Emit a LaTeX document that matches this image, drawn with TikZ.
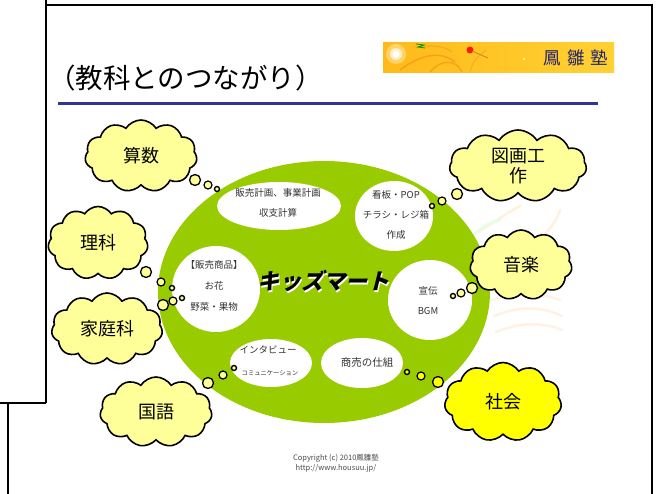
\documentclass[tikz,border=0pt]{standalone}
\usepackage{fontspec}
\usetikzlibrary{shapes.symbols,shapes.geometric}
\newfontfamily\jp{Noto Sans CJK JP}
\definecolor{cloudy}{HTML}{FFFF99}
\definecolor{social}{HTML}{FFFF00}
\definecolor{leaf}{HTML}{99CC00}
\definecolor{navy}{HTML}{333399}
\definecolor{inkgray}{HTML}{333333}
\tikzset{
  frameline/.style={line width=2pt, black},
  thought/.style={cloud, cloud puffs=11, cloud puff arc=115, cloud ignores aspect,
    draw=black, line width=1.6pt, fill=cloudy, inner sep=0pt,
    font=\jp\fontsize{18}{20}\selectfont, align=center},
  bubble/.style={ellipse, fill=white, inner sep=0pt},
  btext/.style={font=\jp\fontsize{9.5}{20}\selectfont, text=inkgray, align=center, inner sep=0pt},
  puffbig/.style={circle, draw=black, line width=1.3pt, fill=cloudy, minimum size=11pt, inner sep=0pt},
  puffmid/.style={circle, draw=black, line width=1.2pt, fill=cloudy, minimum size=8pt, inner sep=0pt},
  puffdot/.style={circle, draw=black, line width=1.4pt, fill=cloudy, minimum size=5pt, inner sep=0pt},
  faint/.style={line width=2.5pt, line cap=round},
}
% text with a white drop shadow, set as one box
\newcommand{\shadowed}[1]{\makebox[0pt][l]{\hspace{2pt}\raisebox{-2pt}{\color{white}#1}}#1}
\begin{document}
\begin{tikzpicture}[x=1pt,y=-1pt]
\useasboundingbox (0,0) rectangle (658,494);
\fill[white] (0,0) rectangle (658,494);

% slide frames
\draw[frameline] (46,0) -- (46,403);
\draw[frameline] (46,5) -- (652,5) -- (652,494);
\draw[frameline] (0,403) -- (46,403);
\draw[frameline] (8,403) -- (8,494);

% heading
\node[anchor=west, inner sep=0pt, font=\jp\fontsize{27.5}{28}\selectfont] (title) at (48,78) {（教科とのつながり）};
\draw[navy, line width=3pt] (58,104) -- (598,104);

% banner
\shade[left color=orange!60!yellow!90, right color=orange!45!yellow!80] (383,43) rectangle (614,73);
\fill[white, opacity=0.35] (396,54) circle (10);
\fill[white, opacity=0.6] (396,54) circle (6);
\fill[white] (396,54) circle (3.5);
\draw[orange!70!brown, opacity=0.45, line width=1.5pt] (400,70) .. controls (420,55) and (440,50) .. (455,62);
\draw[orange!70!brown, opacity=0.45, line width=1.5pt] (430,72) .. controls (440,60) and (455,58) .. (462,72);
\draw[orange!70!brown, opacity=0.4, line width=1pt] (415,48) .. controls (430,44) and (445,46) .. (452,52);
\draw[orange!70!brown, opacity=0.35, line width=1pt] (470,72) .. controls (472,62) and (478,56) .. (486,50);
\draw[green!60!black, line width=0.8pt] (416,44) -- (424,45) -- (418,47) -- (425,48);
\fill[red!80!orange] (470,50) circle (3.5);
\draw[brown!80!orange, line width=0.8pt] (472,51) -- (488,58);
\fill[white!70!yellow] (524,59) circle (1.2);
\node[font=\jp\fontsize{17.5}{18}\selectfont, text=navy!70!black, inner sep=0pt] (logo) at (576,58) {鳳\hspace{6pt}雛\hspace{6pt}塾};

% faint phoenix strokes in the background
\draw[faint, color=orange!12] (478,232) .. controls (495,222) and (508,212) .. (520,206);
\draw[faint, color=green!10] (470,238) .. controls (482,226) and (490,222) .. (500,220);
\draw[faint, color=orange!12] (560,210) .. controls (556,222) and (548,232) .. (540,238);
\draw[faint, color=orange!10] (492,300) .. controls (515,292) and (540,292) .. (560,300);
\draw[faint, color=orange!10] (494,316) .. controls (518,306) and (542,306) .. (562,316);
\draw[faint, color=orange!10] (496,332) .. controls (520,322) and (544,322) .. (562,330);

% the market
\node[ellipse, fill=leaf, minimum width=332pt, minimum height=262pt, inner sep=0pt] (mart) at (324,292) {};

\node[bubble, minimum width=124pt, minimum height=48pt] (plan) at (279,206) {};
\node[btext] (plantext) at (278,203) {販売計画、事業計画\\収支計算};

\node[bubble, minimum width=78pt, minimum height=70pt] (ads) at (394,216) {};
\node[btext] (adstext) at (396,215) {看板・POP\\チラシ・レジ箱\\作成};

\node[bubble, minimum width=88pt, minimum height=86pt] (goods) at (216,289) {};
\node[btext, font=\jp\fontsize{9.5}{21}\selectfont] (goodstext) at (214,286) {【販売商品】\\お花\\野菜・果物};

\node[bubble, minimum width=84pt, minimum height=80pt] (promo) at (430,300) {};
\node[btext] (promotext) at (428,301) {宣伝\\BGM};

\node[bubble, minimum width=82pt, minimum height=48pt] (talk) at (271,363) {};
\node[btext, anchor=base] (talktext1) at (268,353.5) {インタビュー};
\node[btext, anchor=base, font=\jp\fontsize{6.3}{7}\selectfont] (talktext2) at (270,375.5) {コミュニケーション};

\node[bubble, minimum width=82pt, minimum height=50pt] (biz) at (362,363) {};
\node[btext, font=\jp\fontsize{10.5}{12}\selectfont] (biztext) at (367,363) {商売の仕組};

% market name with a white drop shadow
\node[font=\jp\bfseries\fontsize{22}{22}\selectfont, text=black, xslant=0.25, inner sep=0pt] (martname) at (325,282) {\shadowed{キッズマート}};

% subject clouds
\node[thought, minimum width=112pt, minimum height=72pt] (math) at (141,156) {算数};
\node[thought, minimum width=100pt, minimum height=73pt] (sci) at (98,243) {理科};
\node[thought, minimum width=111pt, minimum height=72pt] (home) at (107,329) {家庭科};
\node[thought, minimum width=112pt, minimum height=70pt] (lang) at (156,412) {国語};
\node[thought, minimum width=137pt, minimum height=72pt] (art) at (518,166) {図画工\\作};
\node[thought, minimum width=102pt, minimum height=70pt] (music) at (521,265) {音楽};
\node[thought, minimum width=117pt, minimum height=79pt, fill=social] (soc) at (503,402) {社会};

% thought trails from the clouds to the market
\node[puffbig] (m1) at (195,180) {};
\node[puffmid] (m2) at (208,185) {};
\node[puffdot] (m3) at (217,189) {};

\node[puffbig] (a1) at (457,194) {};
\node[puffmid] (a2) at (442,201) {};
\node[puffdot] (a3) at (432,206) {};

\node[puffbig] (s1) at (146,272) {};
\node[puffmid] (s2) at (161,282) {};
\node[puffdot] (s3) at (172,288) {};

\node[puffbig] (h1) at (163,305) {};
\node[puffmid] (h2) at (173,301) {};
\node[puffdot] (h3) at (182,298) {};

\node[puffbig] (l1) at (208,383) {};
\node[puffmid] (l2) at (223,375) {};
\node[puffdot] (l3) at (234,368) {};

\node[puffbig] (u1) at (472,288) {};
\node[puffmid] (u2) at (461,293) {};
\node[puffdot] (u3) at (453,296) {};

\node[puffbig, fill=social] (c1) at (438,382) {};
\node[puffmid, fill=social] (c2) at (421,376) {};
\node[puffdot, fill=social] (c3) at (407,372) {};

% footer
\node[font=\jp\fontsize{7.5}{8}\selectfont, text=black!70, inner sep=0pt] (copy) at (336,458) {Copyright (c) 2010鳳雛塾};
\node[font=\jp\fontsize{7.5}{8}\selectfont, text=black!70, inner sep=0pt] (url) at (336,468) {http://www.housuu.jp/};
\end{tikzpicture}
\end{document}
